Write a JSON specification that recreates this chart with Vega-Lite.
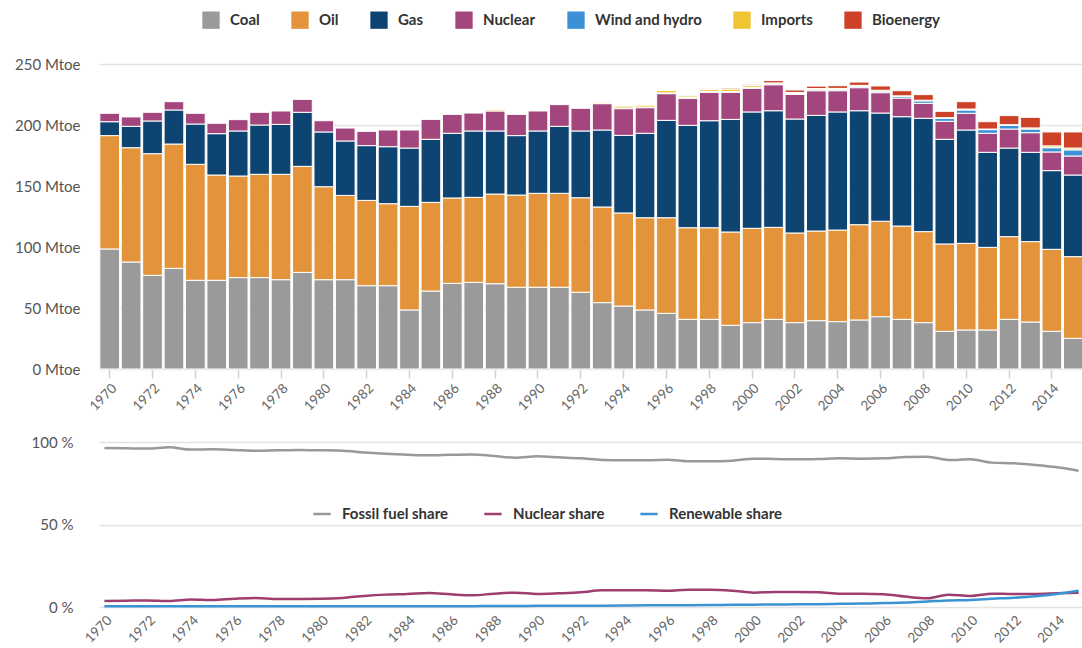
{
"$schema": "https://vega.github.io/schema/vega-lite/v6.json",
"padding": {"left": 14, "top": 11, "right": 0, "bottom": 0},
"bounds": "flush",
"spacing": 73,
"config": {"font": "Lato", "view": {"stroke": null}, "axis": {"labelFont": "Lato", "gridColor": "#e3e3e3", "gridWidth": 1.5}, "legend": {"labelFont": "Lato"}},
"resolve": {"scale": {"color": "independent", "x": "independent"}, "legend": {"color": "independent"}},
"vconcat": [
{
"width": 985, "height": 305,
"data": {"values": [
{"year":1970,"source":"Coal","k":1,"value":98.4},{"year":1970,"source":"Oil","k":2,"value":92.9},{"year":1970,"source":"Gas","k":3,"value":11.4},{"year":1970,"source":"Nuclear","k":4,"value":6.9},
{"year":1971,"source":"Coal","k":1,"value":87.7},{"year":1971,"source":"Oil","k":2,"value":93.7},{"year":1971,"source":"Gas","k":3,"value":17.5},{"year":1971,"source":"Nuclear","k":4,"value":7.7},
{"year":1972,"source":"Coal","k":1,"value":76.8},{"year":1972,"source":"Oil","k":2,"value":99.7},{"year":1972,"source":"Gas","k":3,"value":26.8},{"year":1972,"source":"Nuclear","k":4,"value":7.1},
{"year":1973,"source":"Coal","k":1,"value":82.5},{"year":1973,"source":"Oil","k":2,"value":101.9},{"year":1973,"source":"Gas","k":3,"value":27.9},{"year":1973,"source":"Nuclear","k":4,"value":6.8},
{"year":1974,"source":"Coal","k":1,"value":72.7},{"year":1974,"source":"Oil","k":2,"value":95.1},{"year":1974,"source":"Gas","k":3,"value":33.0},{"year":1974,"source":"Nuclear","k":4,"value":8.8},
{"year":1975,"source":"Coal","k":1,"value":72.7},{"year":1975,"source":"Oil","k":2,"value":86.3},{"year":1975,"source":"Gas","k":3,"value":33.9},{"year":1975,"source":"Nuclear","k":4,"value":8.5},
{"year":1976,"source":"Coal","k":1,"value":74.9},{"year":1976,"source":"Oil","k":2,"value":83.3},{"year":1976,"source":"Gas","k":3,"value":36.9},{"year":1976,"source":"Nuclear","k":4,"value":9.3},
{"year":1977,"source":"Coal","k":1,"value":74.9},{"year":1977,"source":"Oil","k":2,"value":84.7},{"year":1977,"source":"Gas","k":3,"value":40.4},{"year":1977,"source":"Nuclear","k":4,"value":10.4},
{"year":1978,"source":"Coal","k":1,"value":73.2},{"year":1978,"source":"Oil","k":2,"value":86.4},{"year":1978,"source":"Gas","k":3,"value":40.9},{"year":1978,"source":"Nuclear","k":4,"value":11.0},
{"year":1979,"source":"Coal","k":1,"value":79.2},{"year":1979,"source":"Oil","k":2,"value":86.9},{"year":1979,"source":"Gas","k":3,"value":44.3},{"year":1979,"source":"Nuclear","k":4,"value":10.6},
{"year":1980,"source":"Coal","k":1,"value":73.2},{"year":1980,"source":"Oil","k":2,"value":76.2},{"year":1980,"source":"Gas","k":3,"value":44.9},{"year":1980,"source":"Nuclear","k":4,"value":9.2},
{"year":1981,"source":"Coal","k":1,"value":73.2},{"year":1981,"source":"Oil","k":2,"value":69.1},{"year":1981,"source":"Gas","k":3,"value":44.6},{"year":1981,"source":"Nuclear","k":4,"value":10.6},
{"year":1982,"source":"Coal","k":1,"value":68.3},{"year":1982,"source":"Oil","k":2,"value":69.9},{"year":1982,"source":"Gas","k":3,"value":44.9},{"year":1982,"source":"Nuclear","k":4,"value":11.7},
{"year":1983,"source":"Coal","k":1,"value":68.3},{"year":1983,"source":"Oil","k":2,"value":67.2},{"year":1983,"source":"Gas","k":3,"value":46.7},{"year":1983,"source":"Nuclear","k":4,"value":13.7},
{"year":1984,"source":"Coal","k":1,"value":48.4},{"year":1984,"source":"Oil","k":2,"value":84.9},{"year":1984,"source":"Gas","k":3,"value":47.8},{"year":1984,"source":"Nuclear","k":4,"value":14.8},
{"year":1985,"source":"Coal","k":1,"value":63.9},{"year":1985,"source":"Oil","k":2,"value":72.7},{"year":1985,"source":"Gas","k":3,"value":51.7},{"year":1985,"source":"Nuclear","k":4,"value":16.3},
{"year":1986,"source":"Coal","k":1,"value":70.2},{"year":1986,"source":"Oil","k":2,"value":70.0},{"year":1986,"source":"Gas","k":3,"value":53.0},{"year":1986,"source":"Nuclear","k":4,"value":15.5},
{"year":1987,"source":"Coal","k":1,"value":71.0},{"year":1987,"source":"Oil","k":2,"value":69.7},{"year":1987,"source":"Gas","k":3,"value":54.4},{"year":1987,"source":"Nuclear","k":4,"value":14.7},
{"year":1988,"source":"Coal","k":1,"value":69.9},{"year":1988,"source":"Oil","k":2,"value":73.5},{"year":1988,"source":"Gas","k":3,"value":51.7},{"year":1988,"source":"Nuclear","k":4,"value":16.4},{"year":1988,"source":"Imports","k":6,"value":1.0},
{"year":1989,"source":"Coal","k":1,"value":67.0},{"year":1989,"source":"Oil","k":2,"value":75.6},{"year":1989,"source":"Gas","k":3,"value":48.7},{"year":1989,"source":"Nuclear","k":4,"value":17.4},
{"year":1990,"source":"Coal","k":1,"value":67.0},{"year":1990,"source":"Oil","k":2,"value":77.0},{"year":1990,"source":"Gas","k":3,"value":51.1},{"year":1990,"source":"Nuclear","k":4,"value":16.4},
{"year":1991,"source":"Coal","k":1,"value":67.0},{"year":1991,"source":"Oil","k":2,"value":77.0},{"year":1991,"source":"Gas","k":3,"value":54.9},{"year":1991,"source":"Nuclear","k":4,"value":17.8},
{"year":1992,"source":"Coal","k":1,"value":62.9},{"year":1992,"source":"Oil","k":2,"value":77.5},{"year":1992,"source":"Gas","k":3,"value":54.7},{"year":1992,"source":"Nuclear","k":4,"value":18.6},
{"year":1993,"source":"Coal","k":1,"value":54.4},{"year":1993,"source":"Oil","k":2,"value":78.4},{"year":1993,"source":"Gas","k":3,"value":63.1},{"year":1993,"source":"Nuclear","k":4,"value":21.6},{"year":1993,"source":"Imports","k":6,"value":1.1},
{"year":1994,"source":"Coal","k":1,"value":51.6},{"year":1994,"source":"Oil","k":2,"value":76.3},{"year":1994,"source":"Gas","k":3,"value":63.6},{"year":1994,"source":"Nuclear","k":4,"value":21.9},{"year":1994,"source":"Wind and hydro","k":5,"value":0.5},{"year":1994,"source":"Imports","k":6,"value":1.5},
{"year":1995,"source":"Coal","k":1,"value":48.4},{"year":1995,"source":"Oil","k":2,"value":75.6},{"year":1995,"source":"Gas","k":3,"value":69.2},{"year":1995,"source":"Nuclear","k":4,"value":21.0},{"year":1995,"source":"Wind and hydro","k":5,"value":0.5},{"year":1995,"source":"Imports","k":6,"value":1.5},
{"year":1996,"source":"Coal","k":1,"value":45.6},{"year":1996,"source":"Oil","k":2,"value":78.4},{"year":1996,"source":"Gas","k":3,"value":79.8},{"year":1996,"source":"Nuclear","k":4,"value":21.9},{"year":1996,"source":"Wind and hydro","k":5,"value":0.6},{"year":1996,"source":"Imports","k":6,"value":2.0},
{"year":1997,"source":"Coal","k":1,"value":40.7},{"year":1997,"source":"Oil","k":2,"value":75.1},{"year":1997,"source":"Gas","k":3,"value":83.9},{"year":1997,"source":"Nuclear","k":4,"value":22.1},{"year":1997,"source":"Wind and hydro","k":5,"value":0.6},{"year":1997,"source":"Imports","k":6,"value":1.5},{"year":1997,"source":"Bioenergy","k":7,"value":0.5},
{"year":1998,"source":"Coal","k":1,"value":40.7},{"year":1998,"source":"Oil","k":2,"value":75.1},{"year":1998,"source":"Gas","k":3,"value":87.7},{"year":1998,"source":"Nuclear","k":4,"value":23.3},{"year":1998,"source":"Wind and hydro","k":5,"value":0.7},{"year":1998,"source":"Imports","k":6,"value":1.5},{"year":1998,"source":"Bioenergy","k":7,"value":0.6},
{"year":1999,"source":"Coal","k":1,"value":35.8},{"year":1999,"source":"Oil","k":2,"value":76.5},{"year":1999,"source":"Gas","k":3,"value":92.3},{"year":1999,"source":"Nuclear","k":4,"value":22.2},{"year":1999,"source":"Wind and hydro","k":5,"value":0.7},{"year":1999,"source":"Imports","k":6,"value":2.0},{"year":1999,"source":"Bioenergy","k":7,"value":0.8},
{"year":2000,"source":"Coal","k":1,"value":38.0},{"year":2000,"source":"Oil","k":2,"value":77.3},{"year":2000,"source":"Gas","k":3,"value":95.4},{"year":2000,"source":"Nuclear","k":4,"value":19.4},{"year":2000,"source":"Wind and hydro","k":5,"value":0.7},{"year":2000,"source":"Imports","k":6,"value":1.5},{"year":2000,"source":"Bioenergy","k":7,"value":1.0},
{"year":2001,"source":"Coal","k":1,"value":40.7},{"year":2001,"source":"Oil","k":2,"value":75.4},{"year":2001,"source":"Gas","k":3,"value":95.6},{"year":2001,"source":"Nuclear","k":4,"value":21.3},{"year":2001,"source":"Wind and hydro","k":5,"value":0.7},{"year":2001,"source":"Imports","k":6,"value":0.8},{"year":2001,"source":"Bioenergy","k":7,"value":1.9},
{"year":2002,"source":"Coal","k":1,"value":38.0},{"year":2002,"source":"Oil","k":2,"value":73.5},{"year":2002,"source":"Gas","k":3,"value":93.4},{"year":2002,"source":"Nuclear","k":4,"value":20.2},{"year":2002,"source":"Wind and hydro","k":5,"value":0.8},{"year":2002,"source":"Imports","k":6,"value":0.8},{"year":2002,"source":"Bioenergy","k":7,"value":2.0},
{"year":2003,"source":"Coal","k":1,"value":39.6},{"year":2003,"source":"Oil","k":2,"value":73.5},{"year":2003,"source":"Gas","k":3,"value":94.8},{"year":2003,"source":"Nuclear","k":4,"value":20.2},{"year":2003,"source":"Wind and hydro","k":5,"value":0.8},{"year":2003,"source":"Imports","k":6,"value":1.0},{"year":2003,"source":"Bioenergy","k":7,"value":2.0},
{"year":2004,"source":"Coal","k":1,"value":38.8},{"year":2004,"source":"Oil","k":2,"value":75.1},{"year":2004,"source":"Gas","k":3,"value":96.8},{"year":2004,"source":"Nuclear","k":4,"value":17.4},{"year":2004,"source":"Wind and hydro","k":5,"value":0.9},{"year":2004,"source":"Imports","k":6,"value":1.0},{"year":2004,"source":"Bioenergy","k":7,"value":2.2},
{"year":2005,"source":"Coal","k":1,"value":40.2},{"year":2005,"source":"Oil","k":2,"value":78.1},{"year":2005,"source":"Gas","k":3,"value":93.4},{"year":2005,"source":"Nuclear","k":4,"value":18.9},{"year":2005,"source":"Wind and hydro","k":5,"value":1.1},{"year":2005,"source":"Imports","k":6,"value":0.8},{"year":2005,"source":"Bioenergy","k":7,"value":2.7},
{"year":2006,"source":"Coal","k":1,"value":42.9},{"year":2006,"source":"Oil","k":2,"value":78.2},{"year":2006,"source":"Gas","k":3,"value":88.7},{"year":2006,"source":"Nuclear","k":4,"value":16.7},{"year":2006,"source":"Wind and hydro","k":5,"value":1.2},{"year":2006,"source":"Imports","k":6,"value":0.8},{"year":2006,"source":"Bioenergy","k":7,"value":3.5},
{"year":2007,"source":"Coal","k":1,"value":40.7},{"year":2007,"source":"Oil","k":2,"value":76.5},{"year":2007,"source":"Gas","k":3,"value":89.6},{"year":2007,"source":"Nuclear","k":4,"value":15.3},{"year":2007,"source":"Wind and hydro","k":5,"value":1.3},{"year":2007,"source":"Imports","k":6,"value":0.5},{"year":2007,"source":"Bioenergy","k":7,"value":4.2},
{"year":2008,"source":"Coal","k":1,"value":38.0},{"year":2008,"source":"Oil","k":2,"value":74.6},{"year":2008,"source":"Gas","k":3,"value":92.9},{"year":2008,"source":"Nuclear","k":4,"value":12.3},{"year":2008,"source":"Wind and hydro","k":5,"value":2.0},{"year":2008,"source":"Imports","k":6,"value":0.5},{"year":2008,"source":"Bioenergy","k":7,"value":4.6},
{"year":2009,"source":"Coal","k":1,"value":30.9},{"year":2009,"source":"Oil","k":2,"value":71.6},{"year":2009,"source":"Gas","k":3,"value":85.8},{"year":2009,"source":"Nuclear","k":4,"value":14.7},{"year":2009,"source":"Wind and hydro","k":5,"value":2.5},{"year":2009,"source":"Imports","k":6,"value":0.5},{"year":2009,"source":"Bioenergy","k":7,"value":5.2},
{"year":2010,"source":"Coal","k":1,"value":32.0},{"year":2010,"source":"Oil","k":2,"value":71.0},{"year":2010,"source":"Gas","k":3,"value":92.9},{"year":2010,"source":"Nuclear","k":4,"value":13.7},{"year":2010,"source":"Wind and hydro","k":5,"value":2.7},{"year":2010,"source":"Imports","k":6,"value":0.8},{"year":2010,"source":"Bioenergy","k":7,"value":6.0},
{"year":2011,"source":"Coal","k":1,"value":32.0},{"year":2011,"source":"Oil","k":2,"value":67.7},{"year":2011,"source":"Gas","k":3,"value":77.9},{"year":2011,"source":"Nuclear","k":4,"value":15.6},{"year":2011,"source":"Wind and hydro","k":5,"value":3.0},{"year":2011,"source":"Imports","k":6,"value":0.5},{"year":2011,"source":"Bioenergy","k":7,"value":6.0},
{"year":2012,"source":"Coal","k":1,"value":40.7},{"year":2012,"source":"Oil","k":2,"value":67.8},{"year":2012,"source":"Gas","k":3,"value":72.6},{"year":2012,"source":"Nuclear","k":4,"value":15.6},{"year":2012,"source":"Wind and hydro","k":5,"value":3.0},{"year":2012,"source":"Imports","k":6,"value":0.6},{"year":2012,"source":"Bioenergy","k":7,"value":7.4},
{"year":2013,"source":"Coal","k":1,"value":38.5},{"year":2013,"source":"Oil","k":2,"value":65.9},{"year":2013,"source":"Gas","k":3,"value":73.2},{"year":2013,"source":"Nuclear","k":4,"value":16.1},{"year":2013,"source":"Wind and hydro","k":5,"value":3.0},{"year":2013,"source":"Imports","k":6,"value":0.9},{"year":2013,"source":"Bioenergy","k":7,"value":8.7},
{"year":2014,"source":"Coal","k":1,"value":30.9},{"year":2014,"source":"Oil","k":2,"value":67.2},{"year":2014,"source":"Gas","k":3,"value":64.5},{"year":2014,"source":"Nuclear","k":4,"value":15.3},{"year":2014,"source":"Wind and hydro","k":5,"value":3.5},{"year":2014,"source":"Imports","k":6,"value":1.5},{"year":2014,"source":"Bioenergy","k":7,"value":11.4},
{"year":2015,"source":"Coal","k":1,"value":25.1},{"year":2015,"source":"Oil","k":2,"value":67.0},{"year":2015,"source":"Gas","k":3,"value":66.9},{"year":2015,"source":"Nuclear","k":4,"value":15.6},{"year":2015,"source":"Wind and hydro","k":5,"value":5.0},{"year":2015,"source":"Imports","k":6,"value":1.5},{"year":2015,"source":"Bioenergy","k":7,"value":13.2}
]},
"mark": {"type": "bar", "stroke": "white", "strokeWidth": 1},
"encoding": {
"x": {"field": "year", "type": "ordinal", "scale": {"paddingInner": 0.08, "paddingOuter": 0.04},
"axis": {"title": null, "values": [1970,1972,1974,1976,1978,1980,1982,1984,1986,1988,1990,1992,1994,1996,1998,2000,2002,2004,2006,2008,2010,2012,2014], "labelAngle": -45, "domain": false, "ticks": true, "tickColor": "#d0d0d0", "tickSize": 9, "tickWidth": 1.5, "labelColor": "#666", "labelFontSize": 13.5, "labelPadding": 3, "grid": false}},
"y": {"field": "value", "type": "quantitative", "stack": "zero", "scale": {"domain": [0, 250], "nice": false},
"axis": {"title": null, "values": [0,50,100,150,200,250], "labelExpr": "datum.value + ' Mtoe'", "domain": false, "ticks": false, "labelPadding": 19, "labelColor": "#555", "labelFontSize": 15}},
"order": {"field": "k", "type": "quantitative", "sort": "ascending"},
"color": {"field": "source", "type": "nominal", "sort": ["Coal","Oil","Gas","Nuclear","Wind and hydro","Imports","Bioenergy"],
"scale": {"domain": ["Coal","Oil","Gas","Nuclear","Wind and hydro","Imports","Bioenergy"], "range": ["#9a9a9a","#e3933a","#0e4471","#a4467e","#3b90d6","#f1c432","#cc4127"]},
"legend": {"orient": "none", "legendX": 103, "legendY": -53, "direction": "horizontal", "title": null, "symbolType": "square", "symbolSize": 300, "symbolStrokeWidth": 0, "symbolOpacity": 1, "labelFontSize": 15, "labelFontWeight": "bold", "labelColor": "#333", "columnPadding": 31, "labelOffset": 10}}
}
},
{
"width": 985, "height": 165,
"data": {"values": [
{"year":1970,"series":"Fossil fuel share","share":96.4},{"year":1971,"series":"Fossil fuel share","share":96.2},{"year":1972,"series":"Fossil fuel share","share":96.0},{"year":1973,"series":"Fossil fuel share","share":96.8},{"year":1974,"series":"Fossil fuel share","share":95.4},{"year":1975,"series":"Fossil fuel share","share":95.6},{"year":1976,"series":"Fossil fuel share","share":95.2},{"year":1977,"series":"Fossil fuel share","share":94.7},{"year":1978,"series":"Fossil fuel share","share":95.0},{"year":1979,"series":"Fossil fuel share","share":95.2},{"year":1980,"series":"Fossil fuel share","share":95.0},{"year":1981,"series":"Fossil fuel share","share":94.7},{"year":1982,"series":"Fossil fuel share","share":93.7},{"year":1983,"series":"Fossil fuel share","share":92.9},{"year":1984,"series":"Fossil fuel share","share":92.3},{"year":1985,"series":"Fossil fuel share","share":91.9},{"year":1986,"series":"Fossil fuel share","share":92.3},{"year":1987,"series":"Fossil fuel share","share":92.5},{"year":1988,"series":"Fossil fuel share","share":91.5},{"year":1989,"series":"Fossil fuel share","share":90.5},{"year":1990,"series":"Fossil fuel share","share":91.3},{"year":1991,"series":"Fossil fuel share","share":90.7},{"year":1992,"series":"Fossil fuel share","share":90.1},{"year":1993,"series":"Fossil fuel share","share":89.1},{"year":1994,"series":"Fossil fuel share","share":88.9},{"year":1995,"series":"Fossil fuel share","share":88.9},{"year":1996,"series":"Fossil fuel share","share":89.3},{"year":1997,"series":"Fossil fuel share","share":88.3},{"year":1998,"series":"Fossil fuel share","share":88.3},{"year":1999,"series":"Fossil fuel share","share":88.7},{"year":2000,"series":"Fossil fuel share","share":89.9},{"year":2001,"series":"Fossil fuel share","share":89.7},{"year":2002,"series":"Fossil fuel share","share":89.5},{"year":2003,"series":"Fossil fuel share","share":89.7},{"year":2004,"series":"Fossil fuel share","share":90.1},{"year":2005,"series":"Fossil fuel share","share":89.9},{"year":2006,"series":"Fossil fuel share","share":90.1},{"year":2007,"series":"Fossil fuel share","share":90.9},{"year":2008,"series":"Fossil fuel share","share":91.1},{"year":2009,"series":"Fossil fuel share","share":89.1},{"year":2010,"series":"Fossil fuel share","share":89.5},{"year":2011,"series":"Fossil fuel share","share":87.5},{"year":2012,"series":"Fossil fuel share","share":87.1},{"year":2013,"series":"Fossil fuel share","share":86.1},{"year":2014,"series":"Fossil fuel share","share":84.7},{"year":2015,"series":"Fossil fuel share","share":82.6},
{"year":1970,"series":"Nuclear share","share":3.6},{"year":1971,"series":"Nuclear share","share":3.8},{"year":1972,"series":"Nuclear share","share":4.0},{"year":1973,"series":"Nuclear share","share":3.6},{"year":1974,"series":"Nuclear share","share":4.6},{"year":1975,"series":"Nuclear share","share":4.2},{"year":1976,"series":"Nuclear share","share":5.0},{"year":1977,"series":"Nuclear share","share":5.5},{"year":1978,"series":"Nuclear share","share":4.8},{"year":1979,"series":"Nuclear share","share":4.9},{"year":1980,"series":"Nuclear share","share":5.0},{"year":1981,"series":"Nuclear share","share":5.5},{"year":1982,"series":"Nuclear share","share":6.7},{"year":1983,"series":"Nuclear share","share":7.5},{"year":1984,"series":"Nuclear share","share":7.9},{"year":1985,"series":"Nuclear share","share":8.5},{"year":1986,"series":"Nuclear share","share":7.7},{"year":1987,"series":"Nuclear share","share":7.1},{"year":1988,"series":"Nuclear share","share":8.1},{"year":1989,"series":"Nuclear share","share":8.7},{"year":1990,"series":"Nuclear share","share":7.9},{"year":1991,"series":"Nuclear share","share":8.3},{"year":1992,"series":"Nuclear share","share":8.9},{"year":1993,"series":"Nuclear share","share":10.1},{"year":1994,"series":"Nuclear share","share":10.1},{"year":1995,"series":"Nuclear share","share":10.1},{"year":1996,"series":"Nuclear share","share":9.9},{"year":1997,"series":"Nuclear share","share":10.5},{"year":1998,"series":"Nuclear share","share":10.5},{"year":1999,"series":"Nuclear share","share":9.9},{"year":2000,"series":"Nuclear share","share":8.7},{"year":2001,"series":"Nuclear share","share":9.1},{"year":2002,"series":"Nuclear share","share":9.1},{"year":2003,"series":"Nuclear share","share":8.9},{"year":2004,"series":"Nuclear share","share":8.1},{"year":2005,"series":"Nuclear share","share":8.1},{"year":2006,"series":"Nuclear share","share":7.7},{"year":2007,"series":"Nuclear share","share":6.3},{"year":2008,"series":"Nuclear share","share":5.3},{"year":2009,"series":"Nuclear share","share":7.5},{"year":2010,"series":"Nuclear share","share":6.7},{"year":2011,"series":"Nuclear share","share":8.1},{"year":2012,"series":"Nuclear share","share":7.9},{"year":2013,"series":"Nuclear share","share":7.9},{"year":2014,"series":"Nuclear share","share":8.3},{"year":2015,"series":"Nuclear share","share":8.7},
{"year":1970,"series":"Renewable share","share":0.4},{"year":1971,"series":"Renewable share","share":0.4},{"year":1972,"series":"Renewable share","share":0.4},{"year":1973,"series":"Renewable share","share":0.4},{"year":1974,"series":"Renewable share","share":0.4},{"year":1975,"series":"Renewable share","share":0.4},{"year":1976,"series":"Renewable share","share":0.4},{"year":1977,"series":"Renewable share","share":0.4},{"year":1978,"series":"Renewable share","share":0.4},{"year":1979,"series":"Renewable share","share":0.4},{"year":1980,"series":"Renewable share","share":0.5},{"year":1981,"series":"Renewable share","share":0.5},{"year":1982,"series":"Renewable share","share":0.5},{"year":1983,"series":"Renewable share","share":0.5},{"year":1984,"series":"Renewable share","share":0.5},{"year":1985,"series":"Renewable share","share":0.5},{"year":1986,"series":"Renewable share","share":0.5},{"year":1987,"series":"Renewable share","share":0.5},{"year":1988,"series":"Renewable share","share":0.6},{"year":1989,"series":"Renewable share","share":0.6},{"year":1990,"series":"Renewable share","share":0.7},{"year":1991,"series":"Renewable share","share":0.7},{"year":1992,"series":"Renewable share","share":0.8},{"year":1993,"series":"Renewable share","share":0.8},{"year":1994,"series":"Renewable share","share":0.9},{"year":1995,"series":"Renewable share","share":1.0},{"year":1996,"series":"Renewable share","share":1.0},{"year":1997,"series":"Renewable share","share":1.1},{"year":1998,"series":"Renewable share","share":1.2},{"year":1999,"series":"Renewable share","share":1.3},{"year":2000,"series":"Renewable share","share":1.4},{"year":2001,"series":"Renewable share","share":1.5},{"year":2002,"series":"Renewable share","share":1.6},{"year":2003,"series":"Renewable share","share":1.7},{"year":2004,"series":"Renewable share","share":1.9},{"year":2005,"series":"Renewable share","share":2.1},{"year":2006,"series":"Renewable share","share":2.4},{"year":2007,"series":"Renewable share","share":2.7},{"year":2008,"series":"Renewable share","share":3.3},{"year":2009,"series":"Renewable share","share":4.0},{"year":2010,"series":"Renewable share","share":4.3},{"year":2011,"series":"Renewable share","share":5.0},{"year":2012,"series":"Renewable share","share":5.6},{"year":2013,"series":"Renewable share","share":6.5},{"year":2014,"series":"Renewable share","share":7.9},{"year":2015,"series":"Renewable share","share":9.8}
]},
"mark": {"type": "line", "strokeWidth": 2.5, "interpolate": "monotone"},
"encoding": {
"x": {"field": "year", "type": "ordinal", "scale": {"type": "point", "padding": 0.25},
"axis": {"title": null, "values": [1970,1972,1974,1976,1978,1980,1982,1984,1986,1988,1990,1992,1994,1996,1998,2000,2002,2004,2006,2008,2010,2012,2014], "labelAngle": -45, "domain": false, "ticks": false, "labelColor": "#666", "labelFontSize": 13.5, "labelPadding": 6, "grid": false}},
"y": {"field": "share", "type": "quantitative", "scale": {"domain": [0, 100], "nice": false},
"axis": {"title": null, "values": [0, 50, 100], "labelExpr": "datum.value + ' %'", "domain": false, "ticks": false, "labelPadding": 26, "labelColor": "#555", "labelFontSize": 15}},
"color": {"field": "series", "type": "nominal",
"scale": {"domain": ["Fossil fuel share","Nuclear share","Renewable share"], "range": ["#999999","#9e3d70","#3a93d3"]},
"legend": {"orient": "none", "legendX": 213, "legendY": 62, "direction": "horizontal", "title": null, "symbolType": "stroke", "symbolStrokeWidth": 2.5, "symbolSize": 300, "labelFontSize": 15, "labelFontWeight": "bold", "labelColor": "#333", "columnPadding": 30, "labelOffset": 10}}
}
}
]
}
